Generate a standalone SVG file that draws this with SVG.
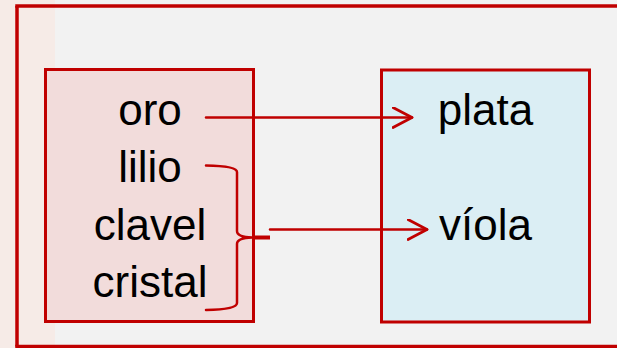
<svg xmlns="http://www.w3.org/2000/svg" width="617" height="348" viewBox="0 0 617 348">
<defs>
<style>
.t{font-family:"Liberation Sans",Arial,sans-serif;font-size:44px;fill:#000;text-anchor:middle}
.ln{fill:none;stroke:#c00000;stroke-width:2.5;stroke-linecap:round;stroke-linejoin:round}
.box{stroke:#c00000;stroke-width:3}
</style>
<marker id="ah" viewBox="0 0 22 22" markerWidth="22" markerHeight="22" refX="20" refY="11" orient="auto" markerUnits="userSpaceOnUse">
<path d="M1,1 L20,11 L1,21" fill="none" stroke="#c00000" stroke-width="2.8" stroke-linecap="round" stroke-linejoin="round"/>
</marker>
</defs>
<rect x="0" y="0" width="617" height="348" fill="#f2f2f2"/>
<rect x="0" y="0" width="55" height="348" fill="#f6ebe7"/>
<g id="frame">
<line x1="15.25" y1="6" x2="617" y2="6" stroke="#c00000" stroke-width="3.5"/>
<line x1="17" y1="6" x2="17" y2="346.5" stroke="#c00000" stroke-width="3.5"/>
<line x1="15.25" y1="346.5" x2="617" y2="346.5" stroke="#c00000" stroke-width="3.5"/>
</g>
<g id="left">
<rect class="box" x="45.5" y="69.5" width="208" height="252" fill="#f2dcdb"/>
<text class="t" x="150" y="125">oro</text>
<text class="t" x="150" y="182">lilio</text>
<text class="t" x="150" y="240">clavel</text>
<text class="t" x="150" y="297">cristal</text>
</g>
<g id="right">
<rect class="box" x="381.5" y="70" width="208" height="252" fill="#dbeef4"/>
<text class="t" x="485.5" y="125">plata</text>
<text class="t" x="485.5" y="240">víola</text>
</g>
<g id="connectors">
<path class="ln" d="M206,117.5 L412,117.5" marker-end="url(#ah)"/>
<path class="ln" d="M206,165.5 Q237,166 237,172 L237,231 Q237,237 252,237.5 Q237,238 237,244 L237,303 Q237,309.5 206,310"/>
<path d="M252,237.5 L270,237.5" stroke="#c00000" stroke-width="4" fill="none"/>
<path class="ln" d="M270,229.5 L427,229.5" marker-end="url(#ah)"/>
</g>
</svg>
